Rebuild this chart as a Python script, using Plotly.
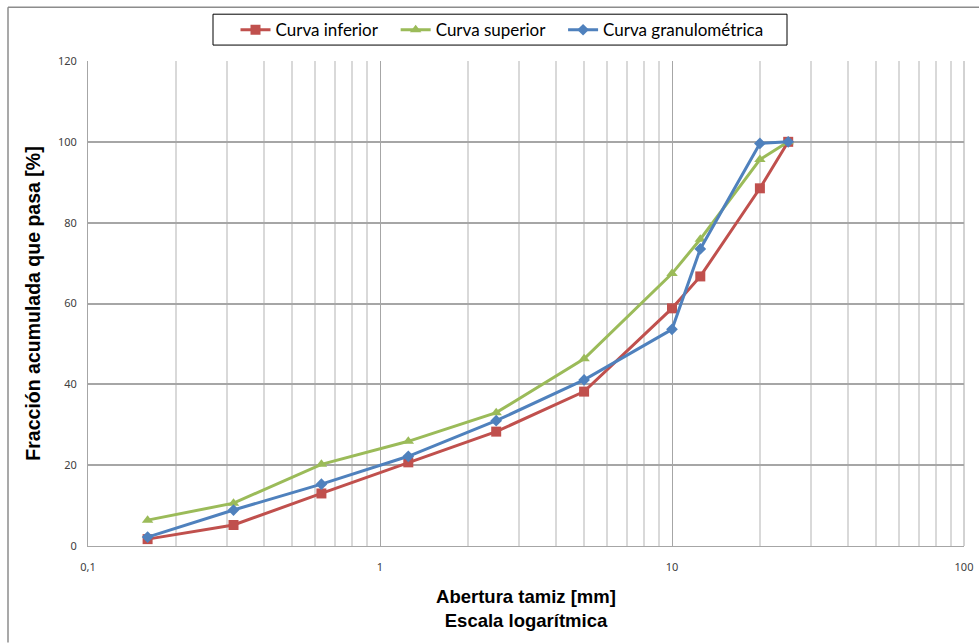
import plotly.graph_objects as go

# Data
sieve_mm = [0.16, 0.315, 0.63, 1.25, 2.5, 5, 10, 12.5, 20, 25]
curva_inferior = [1.7, 5.2, 13.0, 20.7, 28.3, 38.2, 58.8, 66.7, 88.5, 100]
curva_superior = [6.4, 10.6, 20.2, 25.9, 33.0, 46.3, 67.4, 75.9, 95.6, 100]
curva_granulometrica = [2.2, 8.9, 15.3, 22.2, 31.0, 41.1, 53.6, 73.5, 99.6, 100]
series_names = ["Curva inferior", "Curva superior", "Curva granulométrica"]
x_tickvals = [0.1, 1, 10, 100]
x_ticktext = ["0,1", "1", "10", "100"]
y_tickvals = [0, 20, 40, 60, 80, 100, 120]

W, H = 979, 643
ML, MR, MT, MB = 88, 15, 59, 97
PW, PH = W - ML - MR, H - MT - MB

def px2paper_x(px):
    return (px - ML) / PW

def px2paper_y(py):
    return (H - MB - py) / PH

minor_vals = [m * 10 ** e for e in (-1, 0, 1) for m in range(2, 10)]
pad = "\u00a0\u00a0\u00a0"

fig = go.Figure()
fig.add_trace(go.Scatter(
    x=sieve_mm, y=curva_inferior, name=series_names[0] + pad, mode="lines+markers",
    line=dict(color="#C0504D", width=3),
    marker=dict(symbol="square", size=10, color="#C0504D")))
fig.add_trace(go.Scatter(
    x=sieve_mm, y=curva_superior, name=series_names[1] + pad, mode="lines+markers",
    line=dict(color="#9BBB59", width=3),
    marker=dict(symbol="triangle-up", size=10, color="#9BBB59")))
fig.add_trace(go.Scatter(
    x=sieve_mm, y=curva_granulometrica, name=series_names[2], mode="lines+markers",
    line=dict(color="#4F81BD", width=3),
    marker=dict(symbol="diamond", size=9, color="#4F81BD")))

tick_font = dict(family="Noto Sans", size=11, color="#404040")
x_title_font = dict(family="Liberation Sans", size=18.5, color="black", weight="bold")
y_title_font = dict(family="Liberation Sans", size=19.5, color="black", weight="bold")

fig.update_layout(
    width=W, height=H,
    margin=dict(l=ML, r=MR, t=MT, b=MB),
    paper_bgcolor="white", plot_bgcolor="white",
    showlegend=True,
    legend=dict(
        orientation="h", x=px2paper_x(502), xanchor="center",
        y=px2paper_y(10), yanchor="top",
        borderwidth=0, bgcolor="rgba(0,0,0,0)",
        font=dict(family="Lato", size=17, color="black"),
        itemwidth=30, tracegroupgap=0,
    ),
    xaxis=dict(
        type="log", range=[-1, 2], automargin=False,
        tickvals=x_tickvals, ticktext=x_ticktext,
        tickfont=tick_font, ticks="outside", ticklen=11, tickcolor="rgba(0,0,0,0)",
        showgrid=True, gridcolor="#A6A6A6", gridwidth=1,
        minor=dict(tickvals=minor_vals, showgrid=True, gridcolor="#D9D9D9", gridwidth=1.5, ticks=""),
        showline=True, linecolor="#A6A6A6", linewidth=1,
        zeroline=False,
        title=dict(text="Abertura tamiz [mm]<br>Escala logarítmica", font=x_title_font, standoff=16),
    ),
    yaxis=dict(
        range=[0, 120], tickvals=y_tickvals, automargin=False,
        tickfont=tick_font, ticks="outside", ticklen=8, tickcolor="rgba(0,0,0,0)",
        showgrid=True, gridcolor="#A6A6A6", gridwidth=1.5,
        showline=True, linecolor="#A6A6A6", linewidth=1,
        zeroline=False,
        title=dict(text="Fracción acumulada que pasa [%]", font=y_title_font, standoff=12),
    ),
    shapes=[
        dict(type="line", xref="paper", yref="paper",
             x0=px2paper_x(8), x1=px2paper_x(979), y0=px2paper_y(5), y1=px2paper_y(5),
             line=dict(color="#8C8C8C", width=1.5)),
        dict(type="line", xref="paper", yref="paper",
             x0=px2paper_x(8), x1=px2paper_x(8), y0=px2paper_y(5), y1=px2paper_y(643),
             line=dict(color="#8C8C8C", width=1.5)),
        dict(type="line", xref="paper", yref="paper",
             x0=1, x1=1, y0=0, y1=1, line=dict(color="#A6A6A6", width=1)),
        dict(type="rect", xref="paper", yref="paper",
             x0=px2paper_x(213), x1=px2paper_x(787), y0=px2paper_y(43), y1=px2paper_y(12),
             line=dict(color="black", width=1), fillcolor="rgba(0,0,0,0)"),
    ],
)

fig.write_html("out.html")
